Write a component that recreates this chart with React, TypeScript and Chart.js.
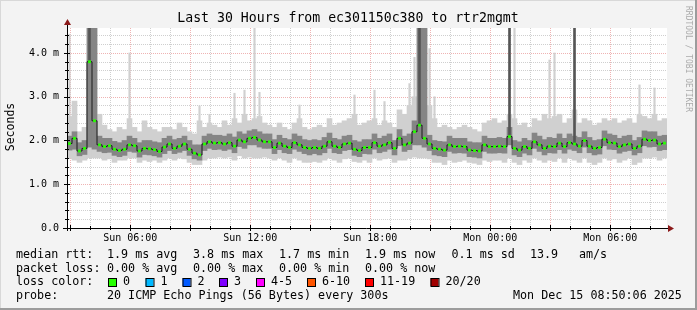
import React, { useEffect, useRef } from 'react';
import { Chart, registerables } from 'chart.js';

Chart.register(...registerables);

const MONO = '"DejaVu Sans Mono", monospace';

// ---- data ----
const titleText = 'Last 30 Hours from ec301150c380 to rtr2mgmt';
const yAxisTitle = 'Seconds';
const watermark = 'RRDTOOL / TOBI OETIKER';

const startClockHour = 2 + 50.1 / 60; // Sun 02:50:06
const spanHours = 30;
const slotHours = 0.25;

const xTickClock = [6, 12, 18, 24, 30];
const xTickLabels = ['Sun 06:00', 'Sun 12:00', 'Sun 18:00', 'Mon 00:00', 'Mon 06:00'];
const yTickValues = [0, 1, 2, 3, 4];
const yTickLabels = ['0.0', '1.0 m', '2.0 m', '3.0 m', '4.0 m'];
const yMax = 4.571;

// median rtt (ms)
const median = [
  1.93, 2.05, 1.76, 1.82, 3.80, 2.45, 1.90, 1.86, 1.88, 1.80, 1.77, 1.80, 1.90, 1.88, 1.76, 1.82, 1.81, 1.79, 1.75, 1.85,
  1.92, 1.82, 1.87, 1.92, 1.80, 1.71, 1.67, 1.92, 1.97, 1.94, 1.95, 1.92, 1.95, 1.87, 2.01, 1.97, 2.05, 2.07, 2.01, 1.97,
  1.97, 1.84, 1.94, 1.87, 1.84, 1.95, 1.90, 1.84, 1.82, 1.84, 1.82, 1.87, 1.97, 1.87, 1.84, 1.92, 1.94, 1.80, 1.77, 1.84,
  1.84, 1.95, 1.87, 1.90, 1.95, 1.82, 2.05, 1.90, 1.94, 2.20, 2.35, 2.05, 1.92, 1.82, 1.80, 1.78, 1.90, 1.86, 1.87, 1.86,
  1.78, 1.77, 1.76, 1.90, 1.86, 1.86, 1.87, 1.86, 2.09, 1.82, 1.78, 1.86, 1.82, 1.97, 1.90, 1.82, 1.87, 1.86, 1.94, 1.86,
  1.95, 1.92, 1.87, 2.00, 1.87, 1.82, 1.84, 2.03, 1.95, 1.94, 1.86, 1.90, 1.92, 1.82, 1.87, 2.03, 2.00, 2.01, 1.92, 1.94,
];

// outer smoke (lightest)
const smokeMax = [
  2.55, 2.9, 2.2, 2.3, 5.0, 5.0, 2.6, 2.35, 2.25, 2.2, 2.3, 2.25, 2.5, 2.3, 2.2, 2.45, 2.3, 2.25, 2.2, 2.3,
  2.3, 2.25, 2.4, 2.3, 2.2, 2.15, 2.45, 2.3, 2.4, 2.35, 2.3, 2.45, 2.35, 2.5, 2.4, 2.6, 2.45, 2.5, 2.55, 2.4,
  2.35, 2.3, 2.4, 2.3, 2.25, 2.4, 2.5, 2.3, 2.25, 2.3, 2.35, 2.3, 2.5, 2.35, 2.4, 2.45, 2.5, 2.6, 2.35, 2.4,
  2.45, 2.5, 2.35, 2.45, 2.4, 2.3, 2.7, 2.6, 2.8, 3.0, 5.0, 5.0, 2.8, 2.5, 2.3, 2.35, 2.3, 2.25, 2.3, 2.35,
  2.3, 2.25, 2.2, 2.4, 2.45, 2.5, 2.4, 2.45, 2.6, 2.5, 2.35, 2.4, 2.3, 2.5, 2.45, 2.6, 2.5, 2.55, 2.6, 2.4,
  2.5, 2.7, 2.4, 2.5, 2.45, 2.35, 2.4, 2.5, 2.45, 2.5, 2.4, 2.45, 2.5, 2.4, 2.6, 2.55, 2.5, 2.6, 2.45, 2.5,
];
const smokeMin = [
  1.6, 1.55, 1.5, 1.55, 1.6, 1.6, 1.6, 1.55, 1.58, 1.5, 1.55, 1.55, 1.6, 1.6, 1.5, 1.55, 1.52, 1.55, 1.5, 1.55,
  1.6, 1.55, 1.6, 1.58, 1.5, 1.45, 1.45, 1.55, 1.6, 1.6, 1.62, 1.6, 1.62, 1.55, 1.65, 1.6, 1.62, 1.6, 1.6, 1.62,
  1.6, 1.55, 1.6, 1.55, 1.5, 1.6, 1.55, 1.5, 1.5, 1.52, 1.5, 1.55, 1.6, 1.55, 1.5, 1.58, 1.6, 1.52, 1.5, 1.55,
  1.5, 1.6, 1.55, 1.58, 1.6, 1.5, 1.55, 1.55, 1.6, 1.62, 1.6, 1.6, 1.58, 1.5, 1.5, 1.45, 1.55, 1.5, 1.52, 1.55,
  1.5, 1.48, 1.45, 1.55, 1.52, 1.55, 1.55, 1.5, 1.6, 1.5, 1.45, 1.55, 1.5, 1.6, 1.55, 1.5, 1.55, 1.52, 1.6, 1.5,
  1.6, 1.55, 1.5, 1.6, 1.5, 1.45, 1.5, 1.6, 1.55, 1.58, 1.5, 1.55, 1.6, 1.45, 1.5, 1.6, 1.6, 1.62, 1.55, 1.6,
];
// inner smoke (medium)
const coreMax = [
  2.1, 2.2, 1.95, 2.0, 5.0, 5.0, 2.1, 2.05, 2.05, 1.98, 1.95, 2.0, 2.1, 2.05, 1.95, 2.0, 2.0, 1.97, 1.95, 2.05,
  2.1, 2.02, 2.05, 2.1, 2.0, 1.9, 1.9, 2.1, 2.15, 2.12, 2.12, 2.1, 2.15, 2.08, 2.2, 2.15, 2.22, 2.25, 2.2, 2.15,
  2.15, 2.02, 2.12, 2.05, 2.02, 2.15, 2.1, 2.02, 2.0, 2.02, 2.0, 2.07, 2.17, 2.05, 2.02, 2.1, 2.12, 2.0, 1.97, 2.02,
  2.02, 2.15, 2.05, 2.1, 2.15, 2.0, 2.25, 2.1, 2.15, 2.45, 5.0, 5.0, 2.12, 2.0, 1.98, 1.97, 2.1, 2.05, 2.05, 2.05,
  1.97, 1.95, 1.95, 2.1, 2.05, 2.05, 2.07, 2.05, 2.3, 2.0, 1.97, 2.05, 2.0, 2.17, 2.1, 2.02, 2.07, 2.05, 2.15, 2.05,
  2.15, 2.1, 2.07, 2.2, 2.07, 2.0, 2.02, 2.22, 2.15, 2.12, 2.05, 2.1, 2.12, 2.0, 2.07, 2.22, 2.2, 2.2, 2.1, 2.12,
];
const coreMin = [
  1.78, 1.8, 1.65, 1.68, 1.85, 1.8, 1.75, 1.72, 1.73, 1.66, 1.63, 1.66, 1.75, 1.73, 1.62, 1.68, 1.67, 1.65, 1.62, 1.7,
  1.77, 1.7, 1.73, 1.77, 1.66, 1.58, 1.55, 1.77, 1.82, 1.79, 1.8, 1.77, 1.8, 1.72, 1.86, 1.82, 1.9, 1.9, 1.85, 1.82,
  1.82, 1.7, 1.79, 1.72, 1.7, 1.8, 1.75, 1.7, 1.67, 1.7, 1.67, 1.72, 1.82, 1.72, 1.7, 1.77, 1.79, 1.66, 1.63, 1.7,
  1.69, 1.8, 1.72, 1.75, 1.8, 1.67, 1.88, 1.75, 1.79, 1.9, 1.9, 1.85, 1.77, 1.67, 1.65, 1.63, 1.75, 1.71, 1.72, 1.71,
  1.63, 1.62, 1.6, 1.75, 1.71, 1.71, 1.72, 1.71, 1.9, 1.67, 1.63, 1.71, 1.67, 1.82, 1.75, 1.67, 1.72, 1.71, 1.79, 1.71,
  1.8, 1.77, 1.72, 1.85, 1.72, 1.67, 1.69, 1.88, 1.8, 1.79, 1.71, 1.75, 1.77, 1.67, 1.72, 1.88, 1.85, 1.86, 1.77, 1.79,
];
// occasional single-ping outliers: [slot index, max rtt ms]
const lightSpikes: [number, number][] = [
  [0, 4.43], [12, 4.0], [26, 2.79], [28, 2.6], [33, 3.08], [35, 3.15], [37, 4.8], [38, 3.1], [46, 2.81],
  [57, 3.04], [61, 3.15], [63, 2.89], [68, 3.3], [69, 3.9], [72, 4.1], [73, 3.0], [89, 4.8], [96, 3.84],
  [97, 4.0], [114, 3.27], [117, 3.2],
];
const darkSpikes: [number, number][] = [[4, 4.8], [70, 4.8], [88, 4.8], [101, 4.8]];

// legend
const rttLabel = 'median rtt:';
const rttStats = ['1.9 ms avg', '3.8 ms max', '1.7 ms min', '1.9 ms now', '0.1 ms sd'];
const rttExtra = ['13.9', 'am/s'];
const lossLabel = 'packet loss:';
const lossStats = ['0.00 % avg', '0.00 % max', '0.00 % min', '0.00 % now'];
const colorLabel = 'loss color:';
const lossNames = ['0', '1', '2', '3', '4-5', '6-10', '11-19', '20/20'];
const lossColors = ['#26ff00', '#00b8ff', '#0059ff', '#7e00ff', '#ff00ff', '#ff5500', '#ff0000', '#a10000'];
const probeLabel = 'probe:';
const probeText = '20 ICMP Echo Pings (56 Bytes) every 300s';
const dateText = 'Mon Dec 15 08:50:06 2025';

// layout constants (positions only)
const statCols = [107, 193, 279, 365, 451.5];
const extraCols = [530, 579];
const boxCols = [108, 145.5, 182.5, 219, 256, 307, 365, 430.5];
const rowsY = [255, 268.5, 282, 296];

const MAJOR_GRID = 'rgba(235,160,160,0.8)';
const MINOR_GRID = 'rgba(195,195,195,0.8)';

const rrdPlugin = {
  id: 'rrd',
  beforeDraw(chart: any) {
    const { ctx, width, height, chartArea: a } = chart;
    ctx.save();
    ctx.fillStyle = '#f3f3f3';
    ctx.fillRect(0, 0, width, height);
    ctx.fillStyle = '#d8d8d8';
    ctx.fillRect(0, 0, width, 1);
    ctx.fillRect(0, 0, 1, height);
    ctx.fillStyle = '#9c9c9c';
    ctx.fillRect(0, height - 2, width, 2);
    ctx.fillRect(width - 2, 0, 2, height);
    ctx.fillStyle = '#ffffff';
    ctx.fillRect(a.left, a.top, a.right - a.left, a.bottom - a.top);
    ctx.restore();
  },
  beforeDatasetsDraw(chart: any) {
    const { ctx, chartArea: a, scales } = chart;
    const xs = scales.x, ys = scales.y;
    ctx.save();
    ctx.lineWidth = 1;
    ctx.setLineDash([1, 1]);
    for (let k = 1; k * 0.2 < yMax; k++) {
      const major = k % 5 === 0;
      const y = Math.round(ys.getPixelForValue(k * 0.2)) + 0.5;
      ctx.strokeStyle = major ? MAJOR_GRID : MINOR_GRID;
      ctx.beginPath();
      ctx.moveTo(a.left, y);
      ctx.lineTo(a.right, y);
      ctx.stroke();
    }
    for (let h = Math.ceil(startClockHour); h < startClockHour + spanHours; h++) {
      const major = h % 3 === 0;
      const x = Math.round(xs.getPixelForValue(h - startClockHour)) + 0.5;
      ctx.strokeStyle = major ? MAJOR_GRID : MINOR_GRID;
      ctx.beginPath();
      ctx.moveTo(x, a.top);
      ctx.lineTo(x, a.bottom);
      ctx.stroke();
    }
    ctx.restore();
  },
  afterDatasetsDraw(chart: any) {
    const { ctx, chartArea: a, scales, width } = chart;
    const xs = scales.x, ys = scales.y;
    ctx.save();
    ctx.strokeStyle = '#000';
    ctx.lineWidth = 1;
    for (let h = Math.ceil(startClockHour); h < startClockHour + spanHours; h++) {
      const x = Math.round(xs.getPixelForValue(h - startClockHour)) + 0.5;
      const len = h % 3 === 0 ? 3 : 2;
      ctx.beginPath();
      ctx.moveTo(x, a.bottom - len);
      ctx.lineTo(x, a.bottom + len);
      ctx.stroke();
    }
    for (let k = 1; k * 0.2 < yMax; k++) {
      const y = Math.round(ys.getPixelForValue(k * 0.2)) + 0.5;
      const len = k % 5 === 0 ? 3 : 2;
      ctx.beginPath();
      ctx.moveTo(a.left - len, y);
      ctx.lineTo(a.left + len, y);
      ctx.stroke();
    }
    const ax = Math.round(a.left) + 0.5;
    const ay = Math.round(a.bottom) + 0.5;
    ctx.beginPath();
    ctx.moveTo(ax, a.bottom + 3);
    ctx.lineTo(ax, a.top - 4);
    ctx.moveTo(a.left - 4, ay);
    ctx.lineTo(a.right + 3, ay);
    ctx.stroke();
    ctx.fillStyle = '#8b1a1a';
    ctx.beginPath();
    ctx.moveTo(ax - 3.5, a.top - 3);
    ctx.lineTo(ax + 3.5, a.top - 3);
    ctx.lineTo(ax, a.top - 9);
    ctx.closePath();
    ctx.fill();
    ctx.beginPath();
    ctx.moveTo(a.right + 1, ay - 3.5);
    ctx.lineTo(a.right + 1, ay + 3.5);
    ctx.lineTo(a.right + 7, ay);
    ctx.closePath();
    ctx.fill();

    ctx.fillStyle = '#000';
    ctx.textBaseline = 'middle';
    ctx.textAlign = 'center';
    ctx.font = `13.2px ${MONO}`;
    ctx.fillText(titleText, 348, 19);

    ctx.save();
    ctx.translate(11, 127);
    ctx.rotate(-Math.PI / 2);
    ctx.font = `11.5px ${MONO}`;
    ctx.fillText(yAxisTitle, 0, 0);
    ctx.restore();

    ctx.save();
    ctx.translate(width - 9, 59);
    ctx.rotate(Math.PI / 2);
    ctx.fillStyle = '#ababab';
    ctx.font = `8px ${MONO}`;
    ctx.fillText(watermark, 0, 0);
    ctx.restore();

    ctx.textAlign = 'left';
    ctx.font = `11.7px ${MONO}`;
    ctx.fillStyle = '#000';
    ctx.fillText(rttLabel, 16, rowsY[0]);
    rttStats.forEach((t, i) => ctx.fillText(t, statCols[i], rowsY[0]));
    rttExtra.forEach((t, i) => ctx.fillText(t, extraCols[i], rowsY[0]));
    ctx.fillText(lossLabel, 16, rowsY[1]);
    lossStats.forEach((t, i) => ctx.fillText(t, statCols[i], rowsY[1]));
    ctx.fillText(colorLabel, 16, rowsY[2]);
    lossNames.forEach((t, i) => {
      const bx = boxCols[i];
      ctx.fillStyle = lossColors[i];
      ctx.fillRect(bx, rowsY[2] - 4, 8, 8);
      ctx.strokeStyle = '#000';
      ctx.strokeRect(bx + 0.5, rowsY[2] - 3.5, 8, 8);
      ctx.fillStyle = '#000';
      ctx.fillText(t, bx + 15, rowsY[2]);
    });
    ctx.fillText(probeLabel, 16, rowsY[3]);
    ctx.fillText(probeText, 107, rowsY[3]);
    ctx.fillText(dateText, 513, rowsY[3]);
    ctx.restore();
  },
};

export default function App() {
  const ref = useRef<HTMLCanvasElement | null>(null);
  useEffect(() => {
    if (!ref.current) return;
    const xAt = median.map((_, i) => (i + 0.5) * slotHours);
    const chart = new Chart(ref.current, {
      type: 'bar',
      data: {
        datasets: [
          {
            type: 'line',
            label: 'median',
            data: median.map((v, i) => ({ x: xAt[i], y: v })),
            showLine: false,
            pointStyle: 'rect',
            pointRadius: 2,
            pointBorderWidth: 0,
            pointBackgroundColor: '#26ff00',
            order: 0,
          } as any,
          {
            type: 'line',
            label: 'median line',
            data: median.map((v, i) => ({ x: xAt[i], y: v })),
            stepped: 'middle',
            borderColor: '#1a1a1a',
            borderWidth: 1,
            pointRadius: 0,
            order: 1,
          } as any,
          {
            label: 'dark spikes',
            data: darkSpikes.map(([i, v]) => ({ x: xAt[i], y: [median[i], v] })),
            backgroundColor: '#555',
            barThickness: 2,
            grouped: false,
            order: 3,
          } as any,
          {
            label: 'inner smoke',
            data: median.map((_, i) => ({ x: xAt[i], y: [coreMin[i], coreMax[i]] })),
            backgroundColor: '#858585',
            barThickness: 5,
            grouped: false,
            order: 4,
          } as any,
          {
            label: 'light spikes',
            data: lightSpikes.map(([i, v]) => ({ x: xAt[i], y: [smokeMax[i], v] })),
            backgroundColor: '#d0d0d0',
            barThickness: 1.5,
            grouped: false,
            order: 5,
          } as any,
          {
            label: 'outer smoke',
            data: median.map((_, i) => ({ x: xAt[i], y: [smokeMin[i], smokeMax[i]] })),
            backgroundColor: '#d0d0d0',
            barThickness: 5,
            grouped: false,
            order: 6,
          } as any,
        ],
      },
      options: {
        responsive: false,
        animation: false,
        devicePixelRatio: 1,
        layout: { padding: { top: 28, left: 0, right: 30, bottom: 0 } },
        plugins: { legend: { display: false }, tooltip: { enabled: false }, title: { display: false } },
        scales: {
          x: {
            type: 'linear',
            min: 0,
            max: spanHours,
            offset: false,
            grid: { display: false, drawTicks: false },
            border: { display: false },
            afterFit: (s: any) => { s.height = 82; },
            afterBuildTicks: (s: any) => { s.ticks = xTickClock.map((h) => ({ value: h - startClockHour })); },
            ticks: {
              autoSkip: false,
              maxRotation: 0,
              padding: 4,
              color: '#000',
              font: { family: MONO, size: 10 },
              callback: (_v: any, idx: number) => xTickLabels[idx],
            },
          },
          y: {
            type: 'linear',
            min: 0,
            max: yMax,
            grid: { display: false, drawTicks: false },
            border: { display: false },
            afterFit: (s: any) => { s.width = 67; },
            afterBuildTicks: (s: any) => { s.ticks = yTickValues.map((v) => ({ value: v })); },
            ticks: {
              padding: 8,
              color: '#000',
              font: { family: MONO, size: 10 },
              callback: (_v: any, idx: number) => yTickLabels[idx],
            },
          },
        },
      } as any,
      plugins: [rrdPlugin],
    });
    return () => chart.destroy();
  }, []);
  return (
    <div style={{ position: 'fixed', left: 0, top: 0, width: 697, height: 310 }}>
      <canvas ref={ref} width={697} height={310} />
    </div>
  );
}
